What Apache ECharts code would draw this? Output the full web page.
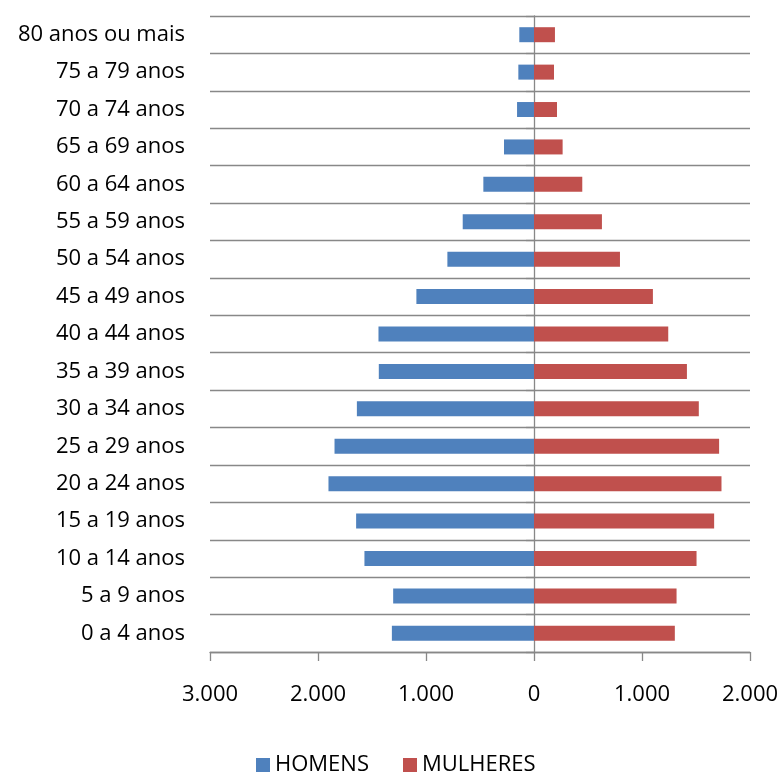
<!DOCTYPE html>
<html>
<head>
<meta charset="utf-8">
<script src="https://cdn.jsdelivr.net/npm/echarts@6/dist/echarts.min.js"></script>
<style>
  html, body { margin: 0; padding: 0; background: #fff; }
  #chart { width: 783px; height: 772px; }
</style>
</head>
<body>
<div id="chart"></div>
<script>
// Faixas etárias, de baixo (0 a 4) para cima (80 ou mais)
const ageGroups = [
  '0 a 4 anos', '5 a 9 anos', '10 a 14 anos', '15 a 19 anos', '20 a 24 anos',
  '25 a 29 anos', '30 a 34 anos', '35 a 39 anos', '40 a 44 anos', '45 a 49 anos',
  '50 a 54 anos', '55 a 59 anos', '60 a 64 anos', '65 a 69 anos', '70 a 74 anos',
  '75 a 79 anos', '80 anos ou mais'
];
// População por sexo (homens como valores positivos; desenhados à esquerda)
const homens = [1316, 1304, 1570, 1647, 1903, 1847, 1640, 1437, 1440, 1089, 802, 660, 469, 278, 157, 145, 136];
const mulheres = [1304, 1320, 1505, 1668, 1736, 1714, 1526, 1416, 1243, 1101, 796, 629, 447, 265, 213, 185, 194];
const xTicks = [-3000, -2000, -1000, 0, 1000, 2000];

const FONT = 'Open Sans';
const FONT_SIZE = 22;
const fmt = v => Math.abs(v).toString().replace(/\B(?=(\d{3})+(?!\d))/g, '.');

const chart = echarts.init(document.getElementById('chart'), null, { renderer: 'canvas' });
chart.setOption({
  animation: false,
  textStyle: { fontFamily: FONT },
  grid: { left: 210, right: 33, top: 16, bottom: 120, containLabel: false },
  legend: {
    bottom: -9,
    left: 251,
    itemWidth: 14,
    itemHeight: 14,
    itemGap: 34,
    icon: 'rect',
    textStyle: { fontFamily: FONT, fontSize: FONT_SIZE, color: '#000' },
    data: ['HOMENS', 'MULHERES']
  },
  xAxis: {
    type: 'value',
    min: xTicks[0],
    max: xTicks[xTicks.length - 1],
    interval: 1000,
    axisLine: { show: true, onZero: false, lineStyle: { color: '#888', width: 1.3 } },
    axisTick: { show: true, length: 9, lineStyle: { color: '#888', width: 1.3 } },
    splitLine: { show: false },
    axisLabel: { fontFamily: FONT, fontSize: FONT_SIZE, color: '#000', margin: 32, formatter: fmt }
  },
  yAxis: [
    {
      type: 'category',
      data: ageGroups,
      axisLine: { show: false, onZero: false },
      axisTick: { show: false },
      splitLine: { show: true, lineStyle: { color: '#888', width: 1.3 } },
      axisLabel: { fontFamily: FONT, fontSize: FONT_SIZE, color: '#000', margin: 25 }
    },
    {
      type: 'category',
      data: ageGroups,
      position: 'left',
      axisLine: { show: true, onZero: true, lineStyle: { color: '#888', width: 1.3 } },
      axisTick: { show: true, length: 8, lineStyle: { color: '#888', width: 1.3 } },
      axisLabel: { show: false },
      splitLine: { show: false }
    }
  ],
  series: [
    {
      name: 'HOMENS',
      type: 'bar',
      yAxisIndex: 0,
      data: homens.map(v => -v),
      barWidth: 15,
      barGap: '-100%',
      itemStyle: { color: '#4F81BD' }
    },
    {
      name: 'MULHERES',
      type: 'bar',
      yAxisIndex: 0,
      data: mulheres,
      barWidth: 15,
      barGap: '-100%',
      itemStyle: { color: '#C0504D' }
    }
  ]
});
</script>
</body>
</html>
